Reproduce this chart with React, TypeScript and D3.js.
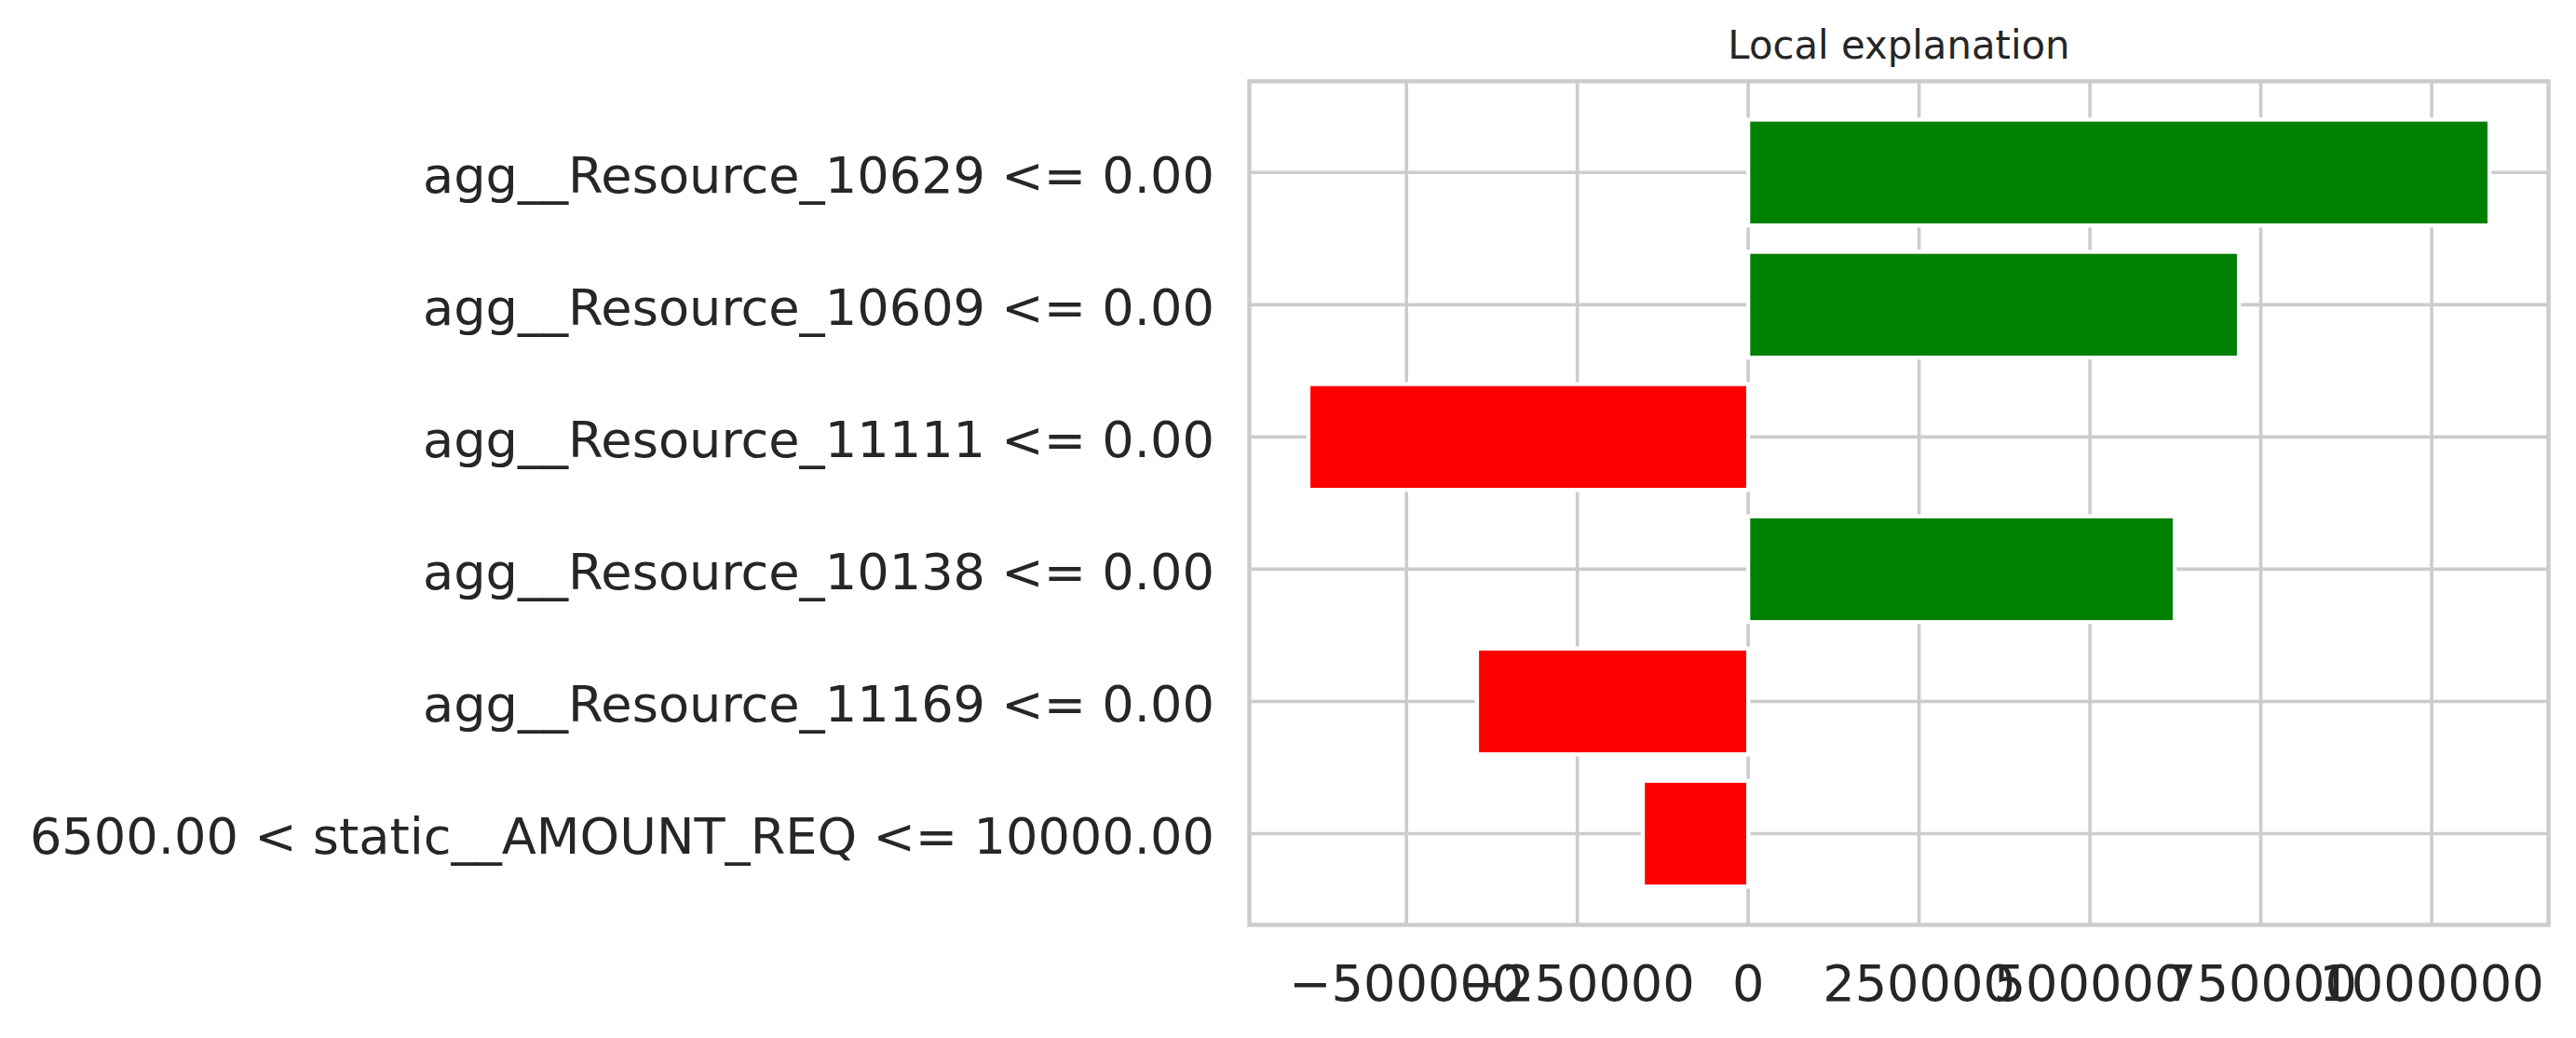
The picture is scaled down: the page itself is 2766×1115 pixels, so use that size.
import React from "react";
import * as d3 from "d3";

const features = [
  "agg__Resource_10629 <= 0.00",
  "agg__Resource_10609 <= 0.00",
  "agg__Resource_11111 <= 0.00",
  "agg__Resource_10138 <= 0.00",
  "agg__Resource_11169 <= 0.00",
  "6500.00 < static__AMOUNT_REQ <= 10000.00",
];
const weights = [1084600, 718000, -643500, 624000, -396800, -154200];
const xTickValues = [-500000, -250000, 0, 250000, 500000, 750000, 1000000];
const title = "Local explanation";

const W = 2766;
const H = 1115;
const M = { left: 1341.5, right: 2736.5, top: 87.3, bottom: 993.5 };
const FONT = "'DejaVu Sans', sans-serif";
const TEXT = "#262626";
const GRID = "#cccccc";
const TICK_FS = 54.2;

export default function App() {
  const vmin = Math.min(0, d3.min(weights) as number);
  const vmax = Math.max(0, d3.max(weights) as number);
  const span = vmax - vmin;
  const x = d3
    .scaleLinear()
    .domain([vmin - 0.05 * span, vmax + 0.05 * span])
    .range([M.left, M.right]);
  const barH = 0.8;
  const n = features.length;
  const lo = -barH / 2;
  const hi = n - 1 + barH / 2;
  const ym = 0.05 * (hi - lo);
  const y = d3.scaleLinear().domain([lo - ym, hi + ym]).range([M.top, M.bottom]);
  const unit = y(1) - y(0);
  const fmt = (v: number) => d3.format("d")(v).replace("-", "\u2212");

  return (
    <svg
      width={W}
      height={H}
      style={{ position: "absolute", left: 0, top: 0, background: "#fff" }}
      xmlns="http://www.w3.org/2000/svg"
    >
      <rect x={0} y={0} width={W} height={H} fill="#fff" />
      {xTickValues.map((v) => (
        <line key={"gx" + v} x1={x(v)} x2={x(v)} y1={M.top} y2={M.bottom} stroke={GRID} strokeWidth={3.6} />
      ))}
      {features.map((f, i) => (
        <line key={"gy" + i} x1={M.left} x2={M.right} y1={y(i)} y2={y(i)} stroke={GRID} strokeWidth={3.6} />
      ))}
      {weights.map((w, i) => (
        <rect
          key={"b" + i}
          x={Math.min(x(0), x(w))}
          width={Math.abs(x(w) - x(0))}
          y={y(i) - (barH / 2) * unit}
          height={barH * unit}
          fill={w > 0 ? "#008000" : "#ff0000"}
          stroke="#ffffff"
          strokeWidth={4.3}
        />
      ))}
      <rect
        x={M.left}
        y={M.top}
        width={M.right - M.left}
        height={M.bottom - M.top}
        fill="none"
        stroke={GRID}
        strokeWidth={4.4}
      />
      {features.map((f, i) => (
        <text
          key={"yl" + i}
          x={M.left - 37.5}
          y={y(i) + 21.3}
          textAnchor="end"
          fontFamily={FONT}
          fontSize={TICK_FS}
          fill={TEXT}
        >
          {f}
        </text>
      ))}
      {xTickValues.map((v) => (
        <text
          key={"xl" + v}
          x={x(v)}
          y={1075}
          textAnchor="middle"
          fontFamily={FONT}
          fontSize={TICK_FS}
          fill={TEXT}
        >
          {fmt(v)}
        </text>
      ))}
      <text
        x={(M.left + M.right) / 2}
        y={63.3}
        textAnchor="middle"
        fontFamily={FONT}
        fontSize={41.8}
        fill={TEXT}
      >
        {title}
      </text>
    </svg>
  );
}
